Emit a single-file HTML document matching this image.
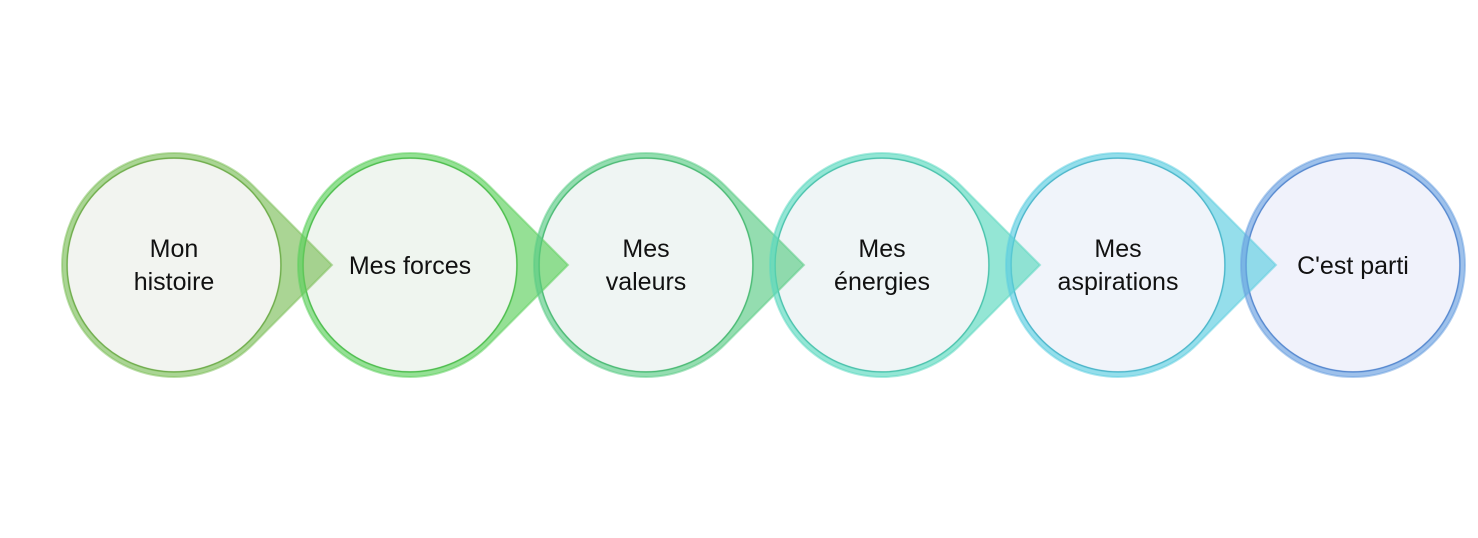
<!DOCTYPE html>
<html><head><meta charset="utf-8"><style>body{margin:0;background:#fff}</style></head><body>
<svg width="1478" height="533" xmlns="http://www.w3.org/2000/svg">
<g stroke-width="1.2">
<circle cx="174" cy="265" r="107" fill="#f2f4f0" stroke="#5a8a3a"/>
<circle cx="410" cy="265" r="107" fill="#eff5ef" stroke="#3a9a3a"/>
<circle cx="646" cy="265" r="107" fill="#eff5f3" stroke="#3a9a5a"/>
<circle cx="882" cy="265" r="107" fill="#eff5f6" stroke="#3a9a8a"/>
<circle cx="1118" cy="265" r="107" fill="#f0f4fa" stroke="#3a8aa0"/>
<circle cx="1353" cy="265" r="107" fill="#f0f2fb" stroke="#3a60b0"/>
</g>
<g fill-rule="evenodd" fill-opacity="0.65" stroke-opacity="0.5" stroke-width="2">
<path fill="#7dbf5a" stroke="#7dbf5a" d="M332 265 L253.4 186 A112 112 0 1 0 253.4 344 Z M281 265 A107 107 0 1 0 67 265 A107 107 0 1 0 281 265 Z"/>
<path fill="#5ccf5c" stroke="#5ccf5c" d="M568 265 L489.4 186 A112 112 0 1 0 489.4 344 Z M517 265 A107 107 0 1 0 303 265 A107 107 0 1 0 517 265 Z"/>
<path fill="#5acb85" stroke="#5acb85" d="M804 265 L725.4 186 A112 112 0 1 0 725.4 344 Z M753 265 A107 107 0 1 0 539 265 A107 107 0 1 0 753 265 Z"/>
<path fill="#5ad8bf" stroke="#5ad8bf" d="M1040 265 L961.4 186 A112 112 0 1 0 961.4 344 Z M989 265 A107 107 0 1 0 775 265 A107 107 0 1 0 989 265 Z"/>
<path fill="#5ccde0" stroke="#5ccde0" d="M1276 265 L1197.4 186 A112 112 0 1 0 1197.4 344 Z M1225 265 A107 107 0 1 0 1011 265 A107 107 0 1 0 1225 265 Z"/>
<path fill="#6a9fe0" stroke="#6a9fe0" d="M1465 265 A112 112 0 1 0 1241 265 A112 112 0 1 0 1465 265 Z M1460 265 A107 107 0 1 0 1246 265 A107 107 0 1 0 1460 265 Z"/>
</g>
<g font-family="Liberation Sans, sans-serif" font-size="25" fill="#111" text-anchor="middle">
<text x="174" y="257">Mon</text><text x="174" y="290">histoire</text>
<text x="410" y="274">Mes forces</text>
<text x="646" y="257">Mes</text><text x="646" y="290">valeurs</text>
<text x="882" y="257">Mes</text><text x="882" y="290">énergies</text>
<text x="1118" y="257">Mes</text><text x="1118" y="290">aspirations</text>
<text x="1353" y="274">C'est parti</text>
</g>
</svg>
</body></html>
